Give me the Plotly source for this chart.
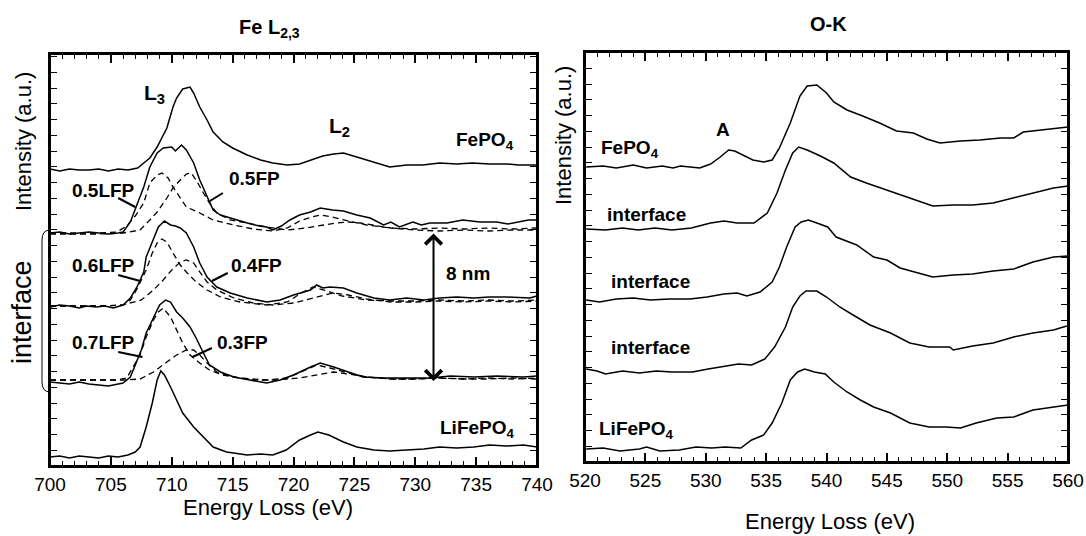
import plotly.graph_objects as go

W, H = 1086, 536

# ---------------- Fe L2,3 spectra (stacked intensities, a.u.) ----------------
FE_E_FEPO4 = [700.0, 700.8, 701.6, 702.4, 703.2, 704.0, 704.8, 705.6, 706.4, 707.2, 707.8, 708.2, 708.8, 709.6, 710.1, 710.4, 710.9, 711.5, 711.8, 712.3, 712.9, 713.4, 714.2, 715.0, 716.2, 717.3, 718.3, 719.5, 720.5, 721.4, 722.4, 723.3, 724.1, 725.2, 726.5, 727.9, 728.6, 729.3, 730.6, 732.0, 733.4, 734.7, 736.1, 737.5, 738.5, 739.4, 740.0]
FE_I_FEPO4 = [297, 295, 297, 296, 296, 297, 295, 297, 296, 298, 304, 308, 319, 338, 359, 368, 377, 379, 373, 359, 346, 334, 324, 318, 311, 306, 303, 301, 302, 306, 310, 312, 313, 309, 304, 299, 300, 301, 301, 303, 302, 303, 302, 302, 301, 301, 301]

FE_E_I05 = [700.0, 700.8, 701.6, 702.4, 703.2, 704.0, 704.8, 705.6, 706.0, 706.6, 707.1, 707.7, 708.2, 708.8, 709.3, 710.0, 710.3, 710.8, 711.2, 711.8, 712.3, 712.9, 713.4, 714.0, 714.8, 716.2, 717.2, 717.8, 718.3, 719.0, 719.7, 720.5, 721.4, 722.2, 723.2, 724.1, 725.2, 726.3, 727.4, 728.0, 728.7, 729.8, 730.5, 731.2, 732.6, 733.9, 735.3, 736.7, 737.6, 738.4, 739.3, 740.0]
FE_I_I05 = [233, 234, 232, 233, 234, 233, 232, 233, 234, 244, 259, 279, 299, 313, 318, 319, 315, 321, 316, 303, 286, 269, 256, 251, 248, 243, 240, 239, 236, 240, 246, 251, 254, 258, 256, 255, 251, 248, 241, 244, 239, 244, 241, 243, 243, 246, 244, 244, 242, 244, 246, 246]
FE_E_L05 = [700.0, 702.0, 704.0, 705.5, 706.3, 707.0, 707.7, 708.2, 708.8, 709.2, 709.7, 710.1, 710.7, 711.2, 712.3, 713.4, 715.1, 716.7, 718.3, 719.5, 720.5, 721.5, 722.2, 723.2, 724.5, 726.0, 728.0, 730.0, 732.0, 734.0, 736.0, 738.0, 740.0]
FE_I_L05 = [233, 233, 233, 234, 240, 250, 263, 283, 291, 293, 288, 279, 268, 259, 253, 246, 241, 237, 235, 238, 245, 249, 251, 249, 245, 241, 238, 237, 238, 237, 238, 237, 238]
FE_E_F05 = [700.0, 702.0, 704.0, 706.0, 707.4, 708.2, 708.8, 709.6, 710.1, 710.7, 711.2, 711.6, 712.0, 712.6, 713.1, 713.7, 714.8, 716.2, 717.8, 719.5, 721.0, 722.5, 723.5, 724.5, 725.5, 726.5, 728.0, 730.0, 732.0, 734.0, 736.0, 738.0, 740.0]
FE_I_F05 = [232, 232, 232, 233, 236, 246, 254, 268, 278, 286, 292, 293, 286, 273, 263, 253, 246, 243, 239, 236, 238, 241, 243, 244, 243, 241, 238, 236, 235, 236, 235, 236, 236]

FE_E_I06 = [700.0, 700.8, 701.6, 702.4, 703.0, 703.8, 704.5, 705.2, 706.0, 706.6, 707.1, 707.7, 707.9, 708.4, 708.9, 709.4, 709.9, 710.3, 710.7, 711.2, 711.8, 712.3, 712.9, 713.7, 714.8, 716.2, 717.8, 718.9, 720.0, 721.4, 721.9, 722.4, 723.0, 724.1, 725.2, 726.6, 727.9, 729.3, 730.7, 732.0, 733.4, 734.8, 736.1, 737.5, 739.4, 740.0]
FE_I_I06 = [159, 161, 160, 158, 160, 159, 160, 158, 161, 168, 178, 194, 209, 224, 239, 245, 241, 240, 238, 233, 219, 203, 189, 179, 173, 168, 164, 166, 171, 176, 181, 178, 179, 178, 173, 168, 166, 168, 166, 168, 169, 168, 169, 169, 168, 170]
FE_E_L06 = [700.0, 702.0, 704.0, 706.0, 706.6, 707.1, 707.9, 708.4, 708.8, 709.2, 709.6, 710.1, 710.7, 711.2, 712.0, 712.9, 714.0, 715.6, 717.8, 719.5, 720.5, 721.6, 722.5, 724.0, 726.0, 728.0, 730.0, 732.0, 734.0, 736.0, 738.0, 740.0]
FE_I_L06 = [160, 160, 160, 161, 166, 176, 196, 213, 223, 227, 224, 213, 201, 194, 184, 176, 169, 164, 161, 164, 172, 179, 176, 170, 166, 165, 165, 166, 165, 166, 165, 166]
FE_E_F06 = [700.0, 702.0, 704.0, 706.0, 707.5, 708.5, 709.3, 710.0, 710.7, 711.2, 711.8, 712.3, 712.9, 713.7, 715.1, 716.7, 718.3, 720.0, 721.5, 723.2, 724.5, 726.0, 728.0, 730.0, 732.0, 734.0, 736.0, 738.0, 740.0]
FE_I_F06 = [160, 160, 160, 161, 166, 176, 186, 196, 204, 206, 203, 194, 184, 176, 168, 163, 161, 163, 168, 173, 171, 167, 164, 164, 165, 164, 165, 164, 165]

FE_E_I07 = [700.0, 700.8, 701.6, 702.4, 703.2, 704.0, 704.8, 705.6, 706.0, 706.6, 707.1, 707.5, 707.9, 708.5, 709.0, 709.5, 709.9, 710.4, 710.9, 711.5, 712.0, 712.6, 713.1, 714.0, 715.1, 716.4, 717.8, 718.9, 720.0, 721.4, 722.2, 723.3, 724.6, 725.7, 727.4, 729.3, 731.2, 732.9, 734.8, 736.7, 738.9, 740.0]
FE_I_I07 = [84, 83, 82, 84, 82, 81, 80, 82, 83, 89, 103, 116, 133, 149, 161, 166, 164, 154, 148, 139, 128, 113, 101, 94, 89, 86, 83, 86, 91, 99, 103, 99, 94, 89, 88, 88, 88, 90, 89, 90, 89, 90]
FE_E_L07 = [700.0, 702.0, 704.0, 705.5, 706.3, 706.8, 707.4, 707.9, 708.5, 708.9, 709.3, 709.9, 710.4, 710.9, 711.5, 712.3, 713.1, 714.2, 715.6, 717.8, 719.5, 720.8, 721.9, 723.0, 724.5, 726.0, 728.0, 730.0, 732.0, 734.0, 736.0, 738.0, 740.0]
FE_I_L07 = [86, 86, 86, 86, 88, 98, 111, 129, 146, 154, 158, 149, 136, 123, 111, 103, 96, 91, 88, 86, 88, 95, 101, 98, 93, 89, 87, 87, 88, 87, 88, 87, 88]
FE_E_F07 = [700.0, 702.0, 704.0, 706.0, 707.4, 708.5, 709.6, 710.4, 711.2, 711.8, 712.3, 712.9, 713.7, 715.1, 716.7, 718.5, 720.5, 722.0, 723.3, 724.5, 726.0, 728.0, 730.0, 732.0, 734.0, 736.0, 738.0, 740.0]
FE_I_F07 = [86, 86, 86, 86, 87, 94, 104, 111, 116, 116, 111, 103, 94, 89, 86, 86, 88, 91, 94, 92, 89, 87, 87, 88, 87, 87, 88, 87]

FE_E_LFP = [700.0, 700.8, 701.6, 702.4, 703.2, 704.0, 704.8, 705.6, 706.4, 707.0, 707.4, 707.9, 708.4, 708.8, 709.1, 709.4, 709.9, 710.4, 710.9, 711.8, 712.6, 713.4, 714.5, 716.2, 717.3, 718.3, 719.4, 720.5, 721.4, 722.0, 722.9, 724.1, 725.2, 726.6, 727.9, 729.3, 730.7, 732.0, 733.4, 734.8, 736.1, 737.5, 738.9, 740.0]
FE_I_LFP = [9, 10, 8, 10, 9, 8, 10, 9, 11, 14, 19, 39, 63, 86, 95, 91, 79, 66, 53, 39, 29, 19, 14, 11, 12, 11, 16, 26, 31, 34, 31, 24, 19, 16, 15, 16, 17, 19, 18, 19, 21, 20, 21, 19]

# ---------------- O-K spectra ----------------
OK_E_FEPO4 = [520.1, 521.5, 522.6, 524.0, 525.1, 526.4, 527.3, 527.9, 529.5, 530.4, 531.2, 531.9, 532.4, 533.1, 533.9, 534.8, 535.5, 536.1, 537.0, 537.8, 538.4, 539.2, 540.0, 540.6, 541.7, 543.0, 544.4, 545.8, 547.2, 548.3, 549.4, 551.1, 552.7, 554.4, 555.5, 556.3, 557.7, 558.8, 560.0]
OK_I_FEPO4 = [295, 296, 294, 297, 294, 296, 294, 296, 294, 298, 305, 312, 311, 307, 302, 300, 302, 314, 339, 366, 376, 377, 369, 360, 352, 346, 339, 331, 329, 323, 319, 321, 322, 324, 324, 330, 332, 334, 335]
OK_E_I1 = [520.1, 521.7, 523.1, 524.4, 525.8, 527.2, 528.8, 530.4, 531.5, 532.6, 534.0, 535.1, 535.9, 536.6, 537.2, 537.7, 538.4, 539.5, 540.6, 542.0, 543.3, 545.0, 546.6, 547.8, 548.8, 550.5, 552.1, 553.8, 555.5, 557.1, 558.8, 560.0]
OK_I_I1 = [233, 232, 234, 232, 234, 232, 234, 239, 241, 239, 239, 249, 269, 292, 309, 315, 312, 306, 299, 285, 279, 272, 265, 260, 256, 257, 257, 259, 264, 269, 274, 276]
OK_E_I2 = [520.1, 521.2, 522.6, 524.0, 525.4, 527.0, 528.7, 530.1, 531.5, 532.6, 533.4, 534.5, 535.5, 536.1, 536.7, 537.4, 537.9, 538.5, 539.2, 540.1, 540.8, 542.5, 543.9, 545.0, 546.1, 547.5, 548.8, 550.5, 552.1, 553.8, 555.5, 557.1, 558.8, 560.0]
OK_I_I2 = [162, 160, 163, 164, 162, 163, 163, 165, 168, 169, 166, 170, 180, 195, 215, 235, 240, 242, 239, 235, 225, 217, 205, 202, 194, 189, 185, 187, 188, 191, 193, 200, 205, 206]
OK_E_I3 = [520.1, 521.0, 521.7, 523.1, 524.5, 525.9, 527.2, 528.9, 530.2, 531.6, 532.7, 533.8, 534.9, 535.7, 536.6, 537.2, 537.8, 538.3, 539.2, 540.0, 541.1, 542.2, 543.6, 545.3, 546.9, 548.5, 550.2, 550.5, 552.1, 553.8, 555.5, 557.1, 558.8, 559.9]
OK_I_I3 = [93, 91, 88, 91, 89, 91, 90, 90, 93, 96, 98, 97, 103, 115, 135, 155, 166, 171, 171, 165, 155, 147, 137, 129, 119, 115, 115, 112, 116, 119, 125, 129, 132, 136]
OK_E_LFP = [520.1, 521.5, 522.9, 524.5, 525.1, 526.2, 527.8, 529.2, 530.5, 531.6, 532.9, 533.8, 534.8, 535.5, 536.3, 537.0, 537.6, 538.2, 539.0, 539.9, 540.6, 541.7, 542.8, 543.9, 545.3, 546.9, 548.5, 549.9, 551.1, 552.4, 554.1, 555.5, 557.1, 558.8, 560.0]
OK_I_LFP = [13, 14, 11, 13, 15, 11, 12, 15, 14, 15, 14, 22, 27, 39, 59, 82, 90, 93, 90, 88, 80, 70, 62, 55, 49, 39, 35, 35, 34, 39, 44, 45, 52, 55, 57]

FONT = "Liberation Sans, Arial, Helvetica, sans-serif"

fig = go.Figure()


def add(x, y, xa, ya, dash=None, width=1.5):
    fig.add_trace(go.Scatter(x=x, y=y, mode="lines", xaxis=xa, yaxis=ya,
                             line=dict(color="black", width=width, dash=dash),
                             showlegend=False, hoverinfo="skip", cliponaxis=True))


DASH = "6px,4px"
add(FE_E_FEPO4, FE_I_FEPO4, "x", "y")
add(FE_E_L05, FE_I_L05, "x", "y", DASH, 1.3)
add(FE_E_F05, FE_I_F05, "x", "y", DASH, 1.3)
add(FE_E_I05, FE_I_I05, "x", "y")
add(FE_E_L06, FE_I_L06, "x", "y", DASH, 1.3)
add(FE_E_F06, FE_I_F06, "x", "y", DASH, 1.3)
add(FE_E_I06, FE_I_I06, "x", "y")
add(FE_E_L07, FE_I_L07, "x", "y", DASH, 1.3)
add(FE_E_F07, FE_I_F07, "x", "y", DASH, 1.3)
add(FE_E_I07, FE_I_I07, "x", "y")
add(FE_E_LFP, FE_I_LFP, "x", "y")

add(OK_E_FEPO4, OK_I_FEPO4, "x2", "y2")
add(OK_E_I1, OK_I_I1, "x2", "y2")
add(OK_E_I2, OK_I_I2, "x2", "y2")
add(OK_E_I3, OK_I_I3, "x2", "y2")
add(OK_E_LFP, OK_I_LFP, "x2", "y2")


def px(v):
    return v / W


def py(v):
    return 1 - v / H


xcommon = dict(tickmode="linear", dtick=5, ticks="inside", ticklen=9, tickwidth=1.5,
               minor=dict(dtick=1, ticks="inside", ticklen=5, tickwidth=1.2, tickcolor="black"),
               showline=True, linewidth=2, linecolor="black", mirror="ticks",
               showgrid=False, zeroline=False, tickcolor="black", automargin=False,
               tickfont=dict(family=FONT, size=19, color="black"))
ycommon = dict(tickmode="linear", tick0=0, dtick=15.75, ticks="inside", ticklen=7, tickwidth=1.3,
               showticklabels=False, showline=True, linewidth=2, linecolor="black",
               mirror="ticks", showgrid=False, zeroline=False, tickcolor="black", automargin=False)

fig.update_layout(
    width=W, height=H, autosize=False,
    margin=dict(l=0, r=0, t=0, b=0, pad=0, autoexpand=False),
    paper_bgcolor="white", plot_bgcolor="white",
    xaxis=dict(domain=[px(50), px(537)], range=[700, 740], tick0=700, anchor="y", **xcommon),
    yaxis=dict(domain=[py(466), py(54)], range=[0, 412], anchor="x", **ycommon),
    xaxis2=dict(domain=[px(585), px(1068)], range=[520, 560], tick0=520, anchor="y2", **xcommon),
    yaxis2=dict(domain=[py(462), py(52)], range=[0, 410], anchor="x2", **ycommon),
)

ann = []


def ptext(text, x, y, size, bold=False, angle=0):
    t = f"<b>{text}</b>" if bold else text
    ann.append(dict(text=t, x=px(x), y=py(y), xref="paper", yref="paper", showarrow=False,
                    textangle=angle, xanchor="center", yanchor="middle",
                    font=dict(family=FONT, size=size, color="black")))


def dtext(text, x, y, xr, yr, size=19):
    ann.append(dict(text=f"<b>{text}</b>", x=x, y=y, xref=xr, yref=yr, showarrow=False,
                    xanchor="center", yanchor="middle",
                    font=dict(family=FONT, size=size, color="black")))


ptext("Fe L<sub>2,3</sub>", 269, 28, 20, bold=True)
ptext("O-K", 828, 24, 20, bold=True)
ptext("Intensity (a.u.)", 23, 142, 22, angle=-90)
ptext("Intensity (a.u.)", 563, 136, 22, angle=-90)
ptext("interface", 22, 312, 27, angle=-90)
ptext("Energy Loss (eV)", 268, 507, 22)
ptext("Energy Loss (eV)", 830, 521, 22)

dtext("L<sub>3</sub>", 708.6, 372, "x", "y", 21)
dtext("L<sub>2</sub>", 723.8, 339, "x", "y", 21)
dtext("FePO<sub>4</sub>", 735.7, 325, "x", "y")
dtext("0.5LFP", 704.4, 276, "x", "y")
dtext("0.5FP", 716.8, 288, "x", "y")
dtext("0.6LFP", 704.4, 201, "x", "y")
dtext("0.4FP", 717.0, 201, "x", "y")
dtext("0.7LFP", 704.4, 124, "x", "y")
dtext("0.3FP", 715.8, 124, "x", "y")
dtext("8 nm", 734.3, 193, "x", "y")
dtext("LiFePO<sub>4</sub>", 735.1, 37, "x", "y")

dtext("A", 531.4, 332, "x2", "y2")
dtext("FePO<sub>4</sub>", 523.7, 313, "x2", "y2")
dtext("interface", 525.1, 247, "x2", "y2")
dtext("interface", 525.4, 181, "x2", "y2")
dtext("interface", 525.4, 115, "x2", "y2")
dtext("LiFePO<sub>4</sub>", 524.3, 32, "x2", "y2")

# double-headed arrow (8 nm)
ann.append(dict(text="", x=731.5, y=85, ax=731.5, ay=234, xref="x", yref="y", axref="x", ayref="y",
                showarrow=True, arrowhead=4, startarrowhead=4, arrowside="end+start",
                arrowwidth=2, arrowsize=1.6, startarrowsize=1.6, arrowcolor="black",
                standoff=0, startstandoff=0))
fig.update_layout(annotations=ann)

shapes = []
# frames around both panels
for xr, yr in [("x domain", "y domain"), ("x2 domain", "y2 domain")]:
    shapes.append(dict(type="rect", x0=0, x1=1, y0=0, y1=1, xref=xr, yref=yr,
                       line=dict(color="black", width=2), fillcolor="rgba(0,0,0,0)", layer="above"))
# leader lines
for (x0, y0, x1, y1) in [(705.6, 268, 707.0, 259), (713.0, 264, 714.2, 273),
                         (705.6, 191, 707.4, 185), (713.3, 185, 714.6, 193),
                         (705.6, 114, 707.6, 109), (711.7, 109, 713.3, 118)]:
    shapes.append(dict(type="line", x0=x0, y0=y0, x1=x1, y1=y1, xref="x", yref="y",
                       line=dict(color="black", width=2)))
# bracket for "interface"
path = (f"M {px(50)},{py(230)} Q {px(42)},{py(230)} {px(42)},{py(240)} "
        f"L {px(42)},{py(382)} Q {px(42)},{py(392)} {px(50)},{py(392)}")
shapes.append(dict(type="path", path=path, xref="paper", yref="paper",
                   line=dict(color="black", width=1)))
fig.update_layout(shapes=shapes)

fig.write_html("out.html")
